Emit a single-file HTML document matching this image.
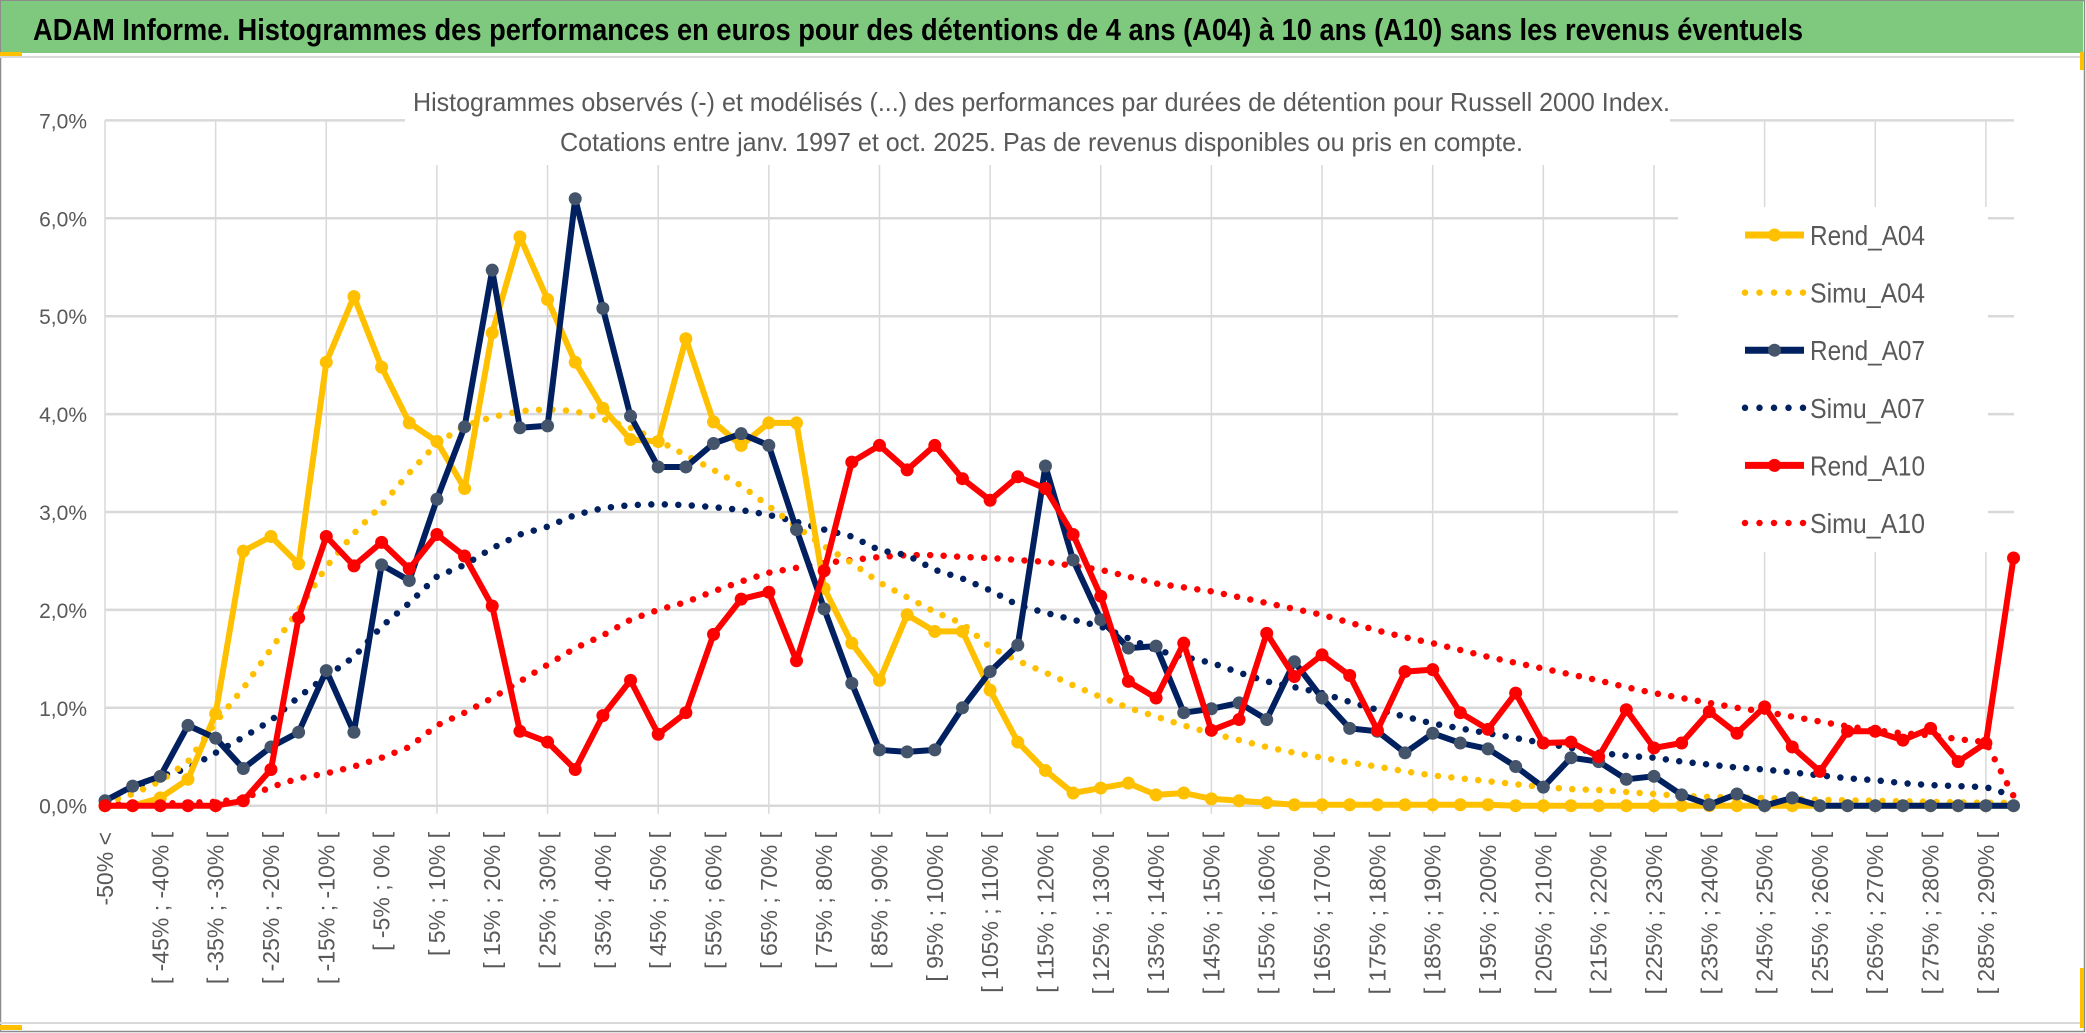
<!DOCTYPE html>
<html><head><meta charset="utf-8">
<style>
html,body{margin:0;padding:0;background:#fff;}
svg{display:block;}
text{font-family:"Liberation Sans",sans-serif;}
</style></head>
<body>
<svg id="chart" width="2086" height="1033" viewBox="0 0 2086 1033" xmlns="http://www.w3.org/2000/svg">
  <rect x="0" y="0" width="2086" height="1033" fill="#fff"/>
  <rect x="0.5" y="0.5" width="2084" height="1031" fill="none" stroke="#8c8c8c" stroke-width="1.5"/>
  <rect x="1" y="1" width="2082" height="52" fill="#7fc97f"/>
  <text x="33" y="40" font-size="31" font-weight="bold" fill="#000" textLength="1770" lengthAdjust="spacingAndGlyphs">ADAM Informe. Histogrammes des performances en euros pour des détentions de 4 ans (A04) à 10 ans (A10) sans les revenus éventuels</text>
  <line x1="0" y1="57" x2="2080" y2="57" stroke="#d9d9d9" stroke-width="2"/>
  <line x1="0" y1="1023" x2="2080" y2="1023" stroke="#d9d9d9" stroke-width="2"/>
  <rect x="0" y="52" width="22" height="4" fill="#ffc000"/>
  <rect x="0" y="1025" width="22" height="5" fill="#ffc000"/>
  <rect x="2080" y="52" width="4" height="18" fill="#ffc000"/>
  <rect x="2080" y="968" width="4" height="60" fill="#ffc000"/>
  <g id="grid"></g>
  <rect x="405" y="60" width="1265" height="105" fill="#fff"/>
  <text x="413" y="111" font-size="26" fill="#595959" textLength="1257" lengthAdjust="spacingAndGlyphs">Histogrammes observés (-) et modélisés (...) des performances par durées de détention pour Russell 2000 Index.</text>
  <text x="560" y="151" font-size="26" fill="#595959" textLength="963" lengthAdjust="spacingAndGlyphs">Cotations entre janv. 1997 et oct. 2025. Pas de revenus disponibles ou pris en compte.</text>
  <g id="yaxis"></g>
  <g id="xaxis"></g>
  <g id="series"></g>
  <g id="legend"></g>
</svg>
<script>
const categoryCount = 70;
const xLabels = ["-50% <","[ -45% ; -40% [","[ -35% ; -30% [","[ -25% ; -20% [","[ -15% ; -10% [","[ -5% ; 0% [","[ 5% ; 10% [","[ 15% ; 20% [","[ 25% ; 30% [","[ 35% ; 40% [","[ 45% ; 50% [","[ 55% ; 60% [","[ 65% ; 70% [","[ 75% ; 80% [","[ 85% ; 90% [","[ 95% ; 100% [","[ 105% ; 110% [","[ 115% ; 120% [","[ 125% ; 130% [","[ 135% ; 140% [","[ 145% ; 150% [","[ 155% ; 160% [","[ 165% ; 170% [","[ 175% ; 180% [","[ 185% ; 190% [","[ 195% ; 200% [","[ 205% ; 210% [","[ 215% ; 220% [","[ 225% ; 230% [","[ 235% ; 240% [","[ 245% ; 250% [","[ 255% ; 260% [","[ 265% ; 270% [","[ 275% ; 280% [","[ 285% ; 290% ["];
const yTicks = [0,1,2,3,4,5,6,7];
const yTickLabels = ["0,0%","1,0%","2,0%","3,0%","4,0%","5,0%","6,0%","7,0%"];

const rendA04 = [0,0,0.08,0.27,0.94,2.6,2.75,2.47,4.53,5.2,4.48,3.91,3.72,3.24,4.83,5.81,5.17,4.53,4.06,3.74,3.72,4.77,3.92,3.68,3.91,3.91,2.22,1.66,1.28,1.95,1.78,1.78,1.18,0.65,0.36,0.13,0.18,0.23,0.11,0.13,0.07,0.05,0.03,0.01,0.01,0.01,0.01,0.01,0.01,0.01,0.01,0,0,0,0,0,0,0,0,0,0,0,0,0,0,0,0,0,0,0];
const simuA04 = [0.03,0.12,0.25,0.45,0.85,1.2,1.6,2.0,2.44,2.78,3.07,3.4,3.7,3.88,3.97,4.03,4.05,4.03,3.95,3.86,3.73,3.58,3.43,3.27,3.06,2.85,2.65,2.48,2.28,2.13,1.98,1.86,1.62,1.48,1.36,1.23,1.11,1.0,0.91,0.82,0.74,0.67,0.6,0.54,0.49,0.44,0.4,0.35,0.31,0.28,0.25,0.22,0.19,0.17,0.16,0.14,0.12,0.1,0.09,0.085,0.08,0.07,0.06,0.055,0.05,0.045,0.04,0.035,0.03,0.03];
const rendA07 = [0.05,0.2,0.3,0.82,0.69,0.38,0.6,0.75,1.38,0.75,2.46,2.3,3.13,3.87,5.47,3.86,3.88,6.2,5.08,3.98,3.46,3.46,3.7,3.8,3.68,2.82,2.01,1.25,0.57,0.55,0.57,1.0,1.37,1.64,3.47,2.51,1.9,1.61,1.63,0.95,0.99,1.05,0.88,1.47,1.1,0.79,0.76,0.54,0.74,0.64,0.58,0.4,0.19,0.49,0.45,0.27,0.3,0.11,0.01,0.12,0,0.08,0,0,0,0,0,0,0,0];
const simuA07 = [0.05,0.18,0.3,0.38,0.54,0.7,0.87,1.11,1.32,1.52,1.83,2.07,2.34,2.46,2.63,2.77,2.85,2.97,3.04,3.07,3.08,3.07,3.05,3.02,2.97,2.9,2.82,2.75,2.61,2.56,2.41,2.32,2.2,2.05,1.97,1.9,1.83,1.71,1.59,1.52,1.46,1.36,1.27,1.21,1.15,1.06,0.98,0.91,0.84,0.79,0.74,0.69,0.64,0.59,0.54,0.51,0.49,0.45,0.42,0.39,0.37,0.34,0.31,0.28,0.26,0.23,0.21,0.2,0.19,0.1];
const rendA10 = [0,0,0,0,0,0.05,0.37,1.92,2.75,2.45,2.69,2.42,2.77,2.55,2.04,0.76,0.65,0.37,0.92,1.28,0.73,0.95,1.75,2.11,2.18,1.48,2.4,3.51,3.68,3.43,3.68,3.34,3.12,3.36,3.24,2.77,2.14,1.27,1.1,1.66,0.77,0.88,1.76,1.32,1.54,1.33,0.77,1.37,1.39,0.95,0.78,1.15,0.64,0.65,0.5,0.98,0.59,0.64,0.96,0.74,1.01,0.6,0.35,0.76,0.76,0.67,0.79,0.45,0.64,2.53];
const simuA10 = [0.01,0.02,0.02,0.03,0.04,0.07,0.19,0.28,0.33,0.4,0.49,0.6,0.82,0.95,1.1,1.27,1.44,1.61,1.74,1.9,2.0,2.08,2.19,2.29,2.38,2.43,2.48,2.51,2.54,2.56,2.56,2.54,2.53,2.51,2.49,2.45,2.41,2.34,2.27,2.23,2.19,2.13,2.07,2.01,1.95,1.87,1.79,1.72,1.66,1.59,1.52,1.46,1.4,1.34,1.28,1.21,1.15,1.1,1.05,1.0,0.96,0.91,0.86,0.81,0.77,0.74,0.72,0.68,0.65,0.1];

const NS = "http://www.w3.org/2000/svg";
const X0 = 105, XSTEP = 27.66, Y0 = 805.7, YUNIT = 97.9, XRIGHT = 2014;
function xScale(k){ return X0 + k*XSTEP; }
function yScale(v){ return Y0 - v*YUNIT; }
function mk(tag, parent){ const e = document.createElementNS(NS, tag); parent.appendChild(e); return e; }

const grid = document.getElementById('grid');
yTicks.forEach(function(t){
  const l = mk('line', grid);
  
  
  l.setAttribute('x1', X0); l.setAttribute('x2', XRIGHT);
  l.setAttribute('y1', yScale(t)); l.setAttribute('y2', yScale(t));
  l.setAttribute('stroke', '#d9d9d9'); l.setAttribute('stroke-width', 2.5);
});
for (let k = 0; k < categoryCount; k += 4) {
  const l = mk('line', grid);
  
  
  l.setAttribute('x1', xScale(k)); l.setAttribute('x2', xScale(k));
  l.setAttribute('y1', yScale(7)); l.setAttribute('y2', yScale(0) + (k === 0 ? 0 : 8));
  l.setAttribute('stroke', '#d9d9d9'); l.setAttribute('stroke-width', 1.5);
}

const yaxis = document.getElementById('yaxis');
yTicks.forEach(function(t, i){
  const tx = mk('text', yaxis);
  
  
  tx.setAttribute('x', 87); tx.setAttribute('y', yScale(t) + 8);
  tx.setAttribute('text-anchor', 'end');
  tx.setAttribute('font-size', 21); tx.setAttribute('fill', '#595959');
  tx.textContent = yTickLabels[i];
});

const xaxis = document.getElementById('xaxis');
xLabels.forEach(function(lab, i){
  const k = i*2;
  const x = xScale(k) + 8, y = 832;
  const tx = mk('text', xaxis);
  
  
  tx.setAttribute('x', x); tx.setAttribute('y', y);
  tx.setAttribute('text-anchor', 'end');
  tx.setAttribute('font-size', 23); tx.setAttribute('fill', '#595959');
  tx.setAttribute('transform', 'rotate(-90 ' + x + ' ' + y + ')');
  tx.textContent = lab;
});

const seriesG = document.getElementById('series');
function pathFor(vals){ return vals.map(function(v,k){ return (k?'L':'M') + xScale(k).toFixed(1) + ' ' + yScale(v).toFixed(1); }).join(' '); }
function dotted(vals, color, name){
  const p = mk('path', seriesG);
  
  
  p.setAttribute('d', pathFor(vals)); p.setAttribute('fill', 'none');
  p.setAttribute('stroke', color); p.setAttribute('stroke-width', 6.5);
  p.setAttribute('stroke-linecap', 'round'); p.setAttribute('stroke-dasharray', '0 13.5');
}
function solid(vals, color, mcolor, name){
  const p = mk('path', seriesG);
  
  
  p.setAttribute('d', pathFor(vals)); p.setAttribute('fill', 'none');
  p.setAttribute('stroke', color); p.setAttribute('stroke-width', 6);
  p.setAttribute('stroke-linejoin', 'round');
  vals.forEach(function(v,k){
    const c = mk('circle', seriesG);
    
    
    c.setAttribute('cx', xScale(k)); c.setAttribute('cy', yScale(v)); c.setAttribute('r', 6.5);
    c.setAttribute('fill', mcolor);
  });
}
dotted(simuA10, '#ff0000', 'simu-a10-line');
dotted(simuA07, '#002060', 'simu-a07-line');
dotted(simuA04, '#ffc000', 'simu-a04-line');
solid(rendA04, '#ffc000', '#ffc000', 'rend-a04-line');
solid(rendA07, '#002060', '#44546a', 'rend-a07-line');
solid(rendA10, '#ff0000', '#ff0000', 'rend-a10-line');

const legend = document.getElementById('legend');
const lbg = mk('rect', legend);


lbg.setAttribute('x', 1678); lbg.setAttribute('y', 207); lbg.setAttribute('width', 310); lbg.setAttribute('height', 345); lbg.setAttribute('fill', '#fff');
const legNames = ["Rend_A04","Simu_A04","Rend_A07","Simu_A07","Rend_A10","Simu_A10"];
const legColors = ["#ffc000","#ffc000","#002060","#002060","#ff0000","#ff0000"];
const legMarker = ["#ffc000",null,"#44546a",null,"#ff0000",null];
legNames.forEach(function(n, i){
  const cy = 235 + i*57.6;
  const g = mk('g', legend);
  
  
  const l = mk('line', g);
  
  
  l.setAttribute('x1', 1745); l.setAttribute('x2', 1804); l.setAttribute('y1', cy); l.setAttribute('y2', cy);
  l.setAttribute('stroke', legColors[i]);
  if (legMarker[i]) {
    l.setAttribute('stroke-width', 7);
    const c = mk('circle', g);
    
    
    c.setAttribute('cx', 1774.5); c.setAttribute('cy', cy); c.setAttribute('r', 6.5); c.setAttribute('fill', legMarker[i]);
  } else {
    l.setAttribute('stroke-width', 6.5); l.setAttribute('stroke-linecap', 'round'); l.setAttribute('stroke-dasharray', '0 14.5');
  }
  const t = mk('text', g);
  
  
  t.setAttribute('x', 1810); t.setAttribute('y', cy + 10);
  t.setAttribute('font-size', 28); t.setAttribute('fill', '#595959');
  t.setAttribute('textLength', 115); t.setAttribute('lengthAdjust', 'spacingAndGlyphs');
  t.textContent = n;
});
</script>
</body></html>
